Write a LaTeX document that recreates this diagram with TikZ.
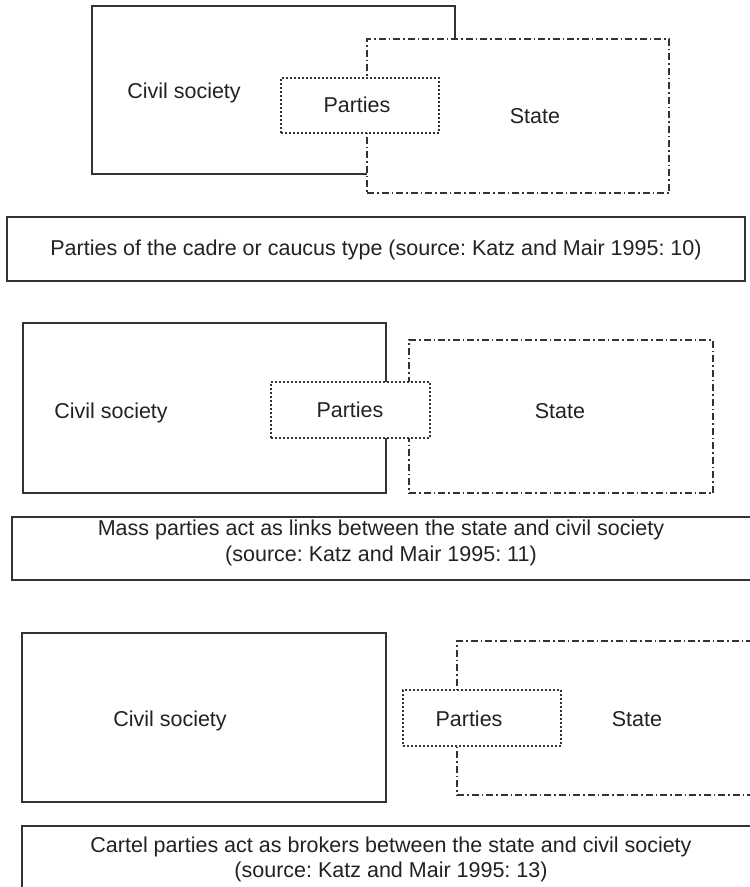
\documentclass[tikz,border=0pt]{standalone}
\usepackage{fontspec}
\setmainfont{Liberation Sans}
\frenchspacing
\definecolor{ln}{HTML}{333333}
\definecolor{txt}{HTML}{222222}
\begin{document}
\begin{tikzpicture}[x=1pt,y=-1pt,
  lbl/.style={anchor=base, inner sep=0pt, font=\fontsize{21.5}{25}\selectfont, text=txt},
  boxbase/.style={draw=ln, line width=1.1pt, fill=white, inner sep=0pt, outer sep=0pt},
  civbox/.style={boxbase},
  stabox/.style={boxbase, dash pattern=on 7pt off 3pt on 1.5pt off 3pt},
  parbox/.style={boxbase, dash pattern=on 2pt off 2pt},
  capbox/.style={boxbase}]
\useasboundingbox (0,0) rectangle (750,887);
\fill[white] (0,0) rectangle (750,887);

% ---- Panel 1 ----
\node[civbox, minimum width=363pt, minimum height=168pt] (civ1) at (273.5,90) {};
\node[stabox, minimum width=302pt, minimum height=154pt] (sta1) at (518,116) {};
\node[parbox, minimum width=158pt, minimum height=55pt] (par1) at (360,105.5) {};
\node[lbl] (tc1) at (184,98) {Civil society};
\node[lbl] (tp1) at (357,112) {Parties};
\node[lbl] (ts1) at (535,123) {State};
\node[capbox, minimum width=738pt, minimum height=64pt] (cap1) at (376,249) {};
\node[lbl] (tcap1) at (376,255) {Parties of the cadre or caucus type (source: Katz and Mair 1995: 10)};

% ---- Panel 2 ----
\node[civbox, minimum width=363pt, minimum height=170pt] (civ2) at (204.5,408) {};
\node[stabox, minimum width=304pt, minimum height=153pt] (sta2) at (561,416.5) {};
\node[parbox, minimum width=159pt, minimum height=56pt] (par2) at (350.5,410) {};
\node[lbl] (tc2) at (111,418) {Civil society};
\node[lbl] (tp2) at (350,417.5) {Parties};
\node[lbl] (ts2) at (560,418) {State};
\node[capbox, minimum width=740pt, minimum height=63pt] (cap2) at (382,548.5) {};
\node[lbl] (tcap2a) at (381,535) {Mass parties act as links between the state and civil society};
\node[lbl] (tcap2b) at (381,561) {(source: Katz and Mair 1995: 11)};

% ---- Panel 3 ----
\node[civbox, minimum width=364pt, minimum height=169pt] (civ3) at (204,717.5) {};
\node[stabox, minimum width=303pt, minimum height=154pt] (sta3) at (608.5,718) {};
\node[parbox, minimum width=158pt, minimum height=56pt] (par3) at (482,718) {};
\node[lbl] (tc3) at (170,726) {Civil society};
\node[lbl] (tp3) at (469,726) {Parties};
\node[lbl] (ts3) at (637,726) {State};
\node[capbox, minimum width=738pt, minimum height=69pt] (cap3) at (391,860.5) {};
\node[lbl] (tcap3a) at (391,852.5) {Cartel parties act as brokers between the state and civil society};
\node[lbl] (tcap3b) at (391,877.5) {(source: Katz and Mair 1995: 13)};
\end{tikzpicture}
\end{document}
